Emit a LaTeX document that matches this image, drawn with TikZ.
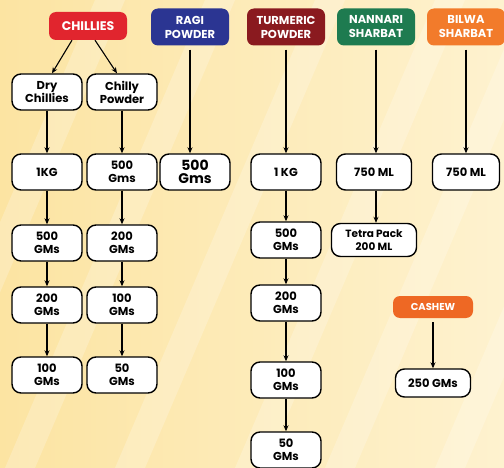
\documentclass[tikz,border=0pt]{standalone}
\usepackage{fontspec}
\setmainfont{Poppins}
\usetikzlibrary{arrows.meta}
\definecolor{fondo}{HTML}{FCE4A2}
\definecolor{fondoclaro}{HTML}{FEF2CF}
\definecolor{rojo}{HTML}{E1252E}
\definecolor{azul}{HTML}{2B3592}
\definecolor{granate}{HTML}{8A1A1F}
\definecolor{verde}{HTML}{1E7B50}
\definecolor{naranja}{HTML}{F27B2B}
\definecolor{anacardo}{HTML}{EE6824}

\begin{document}
\begin{tikzpicture}[x=1pt,y=-1pt,
  caja/.style={draw=black,line width=1.4pt,fill=white,rounded corners=9pt,minimum width=70pt,
    minimum height=36pt,align=center,inner sep=1pt,font=\bfseries\fontsize{11.5}{13}\selectfont},
  titulo/.style={rounded corners=7pt,text=white,minimum width=78pt,minimum height=37pt,align=center,
    inner sep=1pt,font=\bfseries\fontsize{11.5}{14}\selectfont},
  flecha/.style={-{Stealth[length=6pt,width=5pt]},line width=1.1pt}]
% fondo
\useasboundingbox (0,0) rectangle (504,468);
\begin{scope}
\clip (0,0) rectangle (504,468);
\shade[left color=fondo,right color=fondoclaro] (0,0) rectangle (504,468);
\foreach \d in {40,150,260,380,470,580}
  \fill[white,opacity=0.22] (\d+55,0) -- (\d+85,0) -- (\d-115,468) -- (\d-145,468) -- cycle;
\end{scope}

% cabeceras
\node[titulo,fill=rojo,minimum height=28pt,font=\bfseries\fontsize{12.5}{14}\selectfont] (chillies) at (88,26) {CHILLIES};
\node[titulo,fill=azul] (ragi) at (190,27) {RAGI\\POWDER};
\node[titulo,fill=granate] (turmeric) at (286,27) {TURMERIC\\POWDER};
\node[titulo,fill=verde] (nannari) at (376,27) {NANNARI\\SHARBAT};
\node[titulo,fill=naranja] (bilwa) at (466,27) {BILWA\\SHARBAT};
\node[titulo,fill=anacardo,minimum height=22pt,minimum width=80pt,font=\bfseries\fontsize{10}{12}\selectfont] (cashew) at (433,307) {CASHEW};

% cajas
\node[caja] (dry) at (47,92) {Dry\\Chillies};
\node[caja] (powder) at (122,92) {Chilly\\Powder};
\node[caja] (dryA) at (47,172) {1KG};
\node[caja] (dryB) at (47,243) {500\\GMs};
\node[caja] (dryC) at (47,305) {200\\GMs};
\node[caja] (dryD) at (47,375) {100\\GMs};
\node[caja] (powA) at (122,172) {500\\Gms};
\node[caja] (powB) at (122,243) {200\\GMs};
\node[caja] (powC) at (122,305) {100\\GMs};
\node[caja] (powD) at (122,375) {50\\GMs};
\node[caja,font=\bfseries\fontsize{14}{13}\selectfont] (ragiA) at (195,172) {500\\Gms};
\node[caja] (turA) at (286,172) {1 KG};
\node[caja] (turB) at (286,240) {500\\GMs};
\node[caja] (turC) at (286,303) {200\\GMs};
\node[caja] (turD) at (286,380) {100\\GMs};
\node[caja] (turE) at (286,450) {50\\GMs};
\node[caja,minimum width=75pt] (nanA) at (374,172) {750 ML};
\node[caja,minimum width=85pt,minimum height=33pt,font=\bfseries\fontsize{10.5}{12.5}\selectfont] (nanB) at (374,240) {Tetra Pack\\200 ML};
\node[caja,minimum width=67pt] (bilA) at (466,172) {750 ML};
\node[caja,minimum width=75pt,minimum height=28pt] (cashA) at (433,383) {250 GMs};

% flechas
\draw[flecha] ([xshift=-16pt]chillies.south) -- ([xshift=5pt]dry.north);
\draw[flecha] ([xshift=7pt]chillies.south) -- ([xshift=-5pt]powder.north);
\draw[flecha] (dry) -- (dryA);
\draw[flecha] (dryA) -- (dryB);
\draw[flecha] (dryB) -- (dryC);
\draw[flecha] (dryC) -- (dryD);
\draw[flecha] (powder) -- (powA);
\draw[flecha] (powA) -- (powB);
\draw[flecha] (powB) -- (powC);
\draw[flecha] (powC) -- (powD);
\draw[flecha,shorten <=4pt] (ragi.south) -- (ragi.south |- ragiA.north);
\draw[flecha,shorten <=4pt] (turmeric) -- (turA);
\draw[flecha] (turA) -- (turB);
\draw[flecha] (turB) -- (turC);
\draw[flecha] (turC) -- (turD);
\draw[flecha] (turD) -- (turE);
\draw[flecha,shorten <=4pt] (nannari.south) -- (nannari.south |- nanA.north);
\draw[flecha] (nannari.south |- nanA.south) -- (nannari.south |- nanB.north);
\draw[flecha,shorten <=4pt] (bilwa) -- (bilA);
\draw[flecha,shorten <=4pt] (cashew) -- (cashA);
\end{tikzpicture}
\end{document}
